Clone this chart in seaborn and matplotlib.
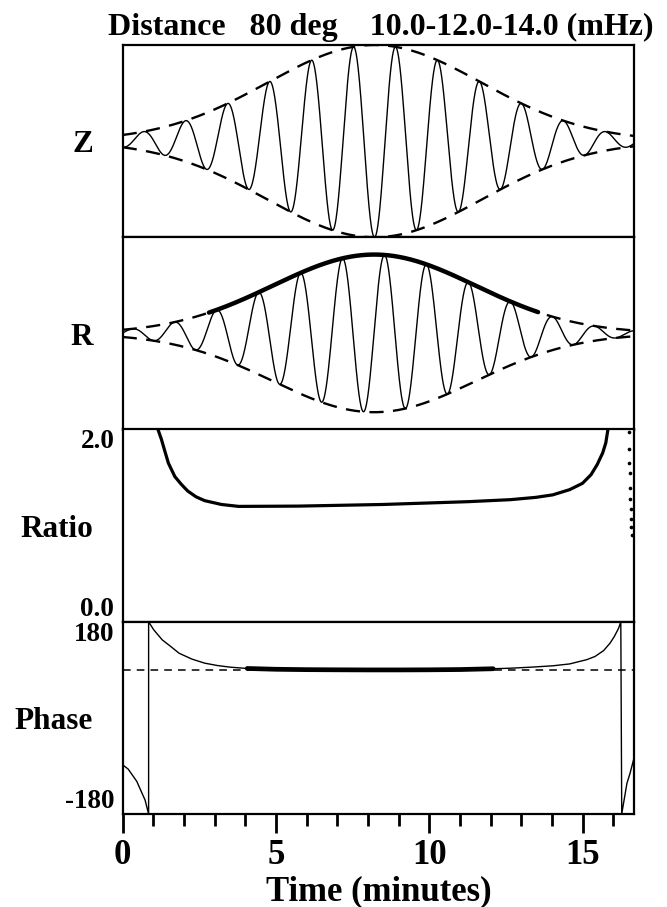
import numpy as np
import pandas as pd
import matplotlib
matplotlib.use("Agg")
import matplotlib.pyplot as plt
from matplotlib.ticker import MultipleLocator, NullLocator
import seaborn as sns

# ---------------------------------------------------------------- data
TITLE = "Distance   80 deg    10.0-12.0-14.0 (mHz)"
PANEL_NAMES = ["Z", "R", "Ratio", "Phase"]
X_LABEL = "Time (minutes)"
T_MAX = 16.68                      # minutes shown on the time axis

# narrow-band wave packets (12 mHz carrier): period in minutes,
# Gaussian envelope centre / width (minutes) and peak amplitude
CARRIER_PERIOD = 1.37
Z_CENTER, Z_WIDTH, Z_AMP, Z_TROUGH = 8.21, 3.5, 1.0, 8.21
R_CENTER, R_WIDTH, R_AMP, R_TROUGH = 8.20, 3.3, 0.82, 7.85
R_WINDOW = (2.81, 13.55)           # analysis window marked on the R envelope

# amplitude ratio R/Z
RATIO_T = [1.15, 1.26, 1.36, 1.49, 1.70, 1.91, 2.12, 2.39, 2.67, 3.22, 3.78,
           5.72, 8.48, 11.25, 12.64, 13.47, 14.02, 14.57, 14.99, 15.27,
           15.47, 15.65, 15.75, 15.82]
RATIO_V = [2.00, 1.90, 1.79, 1.65, 1.51, 1.43, 1.36, 1.30, 1.26, 1.22, 1.20,
           1.203, 1.22, 1.249, 1.27, 1.294, 1.32, 1.374, 1.44, 1.53,
           1.635, 1.757, 1.86, 2.00]
RATIO_EDGE_T = [16.50, 16.51, 16.52, 16.53, 16.54, 16.55, 16.56, 16.57,
                16.58, 16.59]
RATIO_EDGE_V = [1.972, 1.798, 1.652, 1.548, 1.391, 1.277, 1.172, 1.071,
                0.984, 0.904]
RATIO_TICKS = [0.0, 2.0]

# phase difference (degrees), wrapped to [-180, 180]
PHASE_T = [0.00, 0.18, 0.46, 0.73, 0.845, 0.845, 1.01, 1.29, 1.56, 1.84,
           2.26, 2.67, 3.09, 3.50, 4.06, 5.0, 6.0, 7.0, 8.0, 9.0, 10.0,
           11.0, 12.08, 12.64, 13.33, 14.02, 14.57, 15.13, 15.40, 15.68,
           15.89, 16.03, 16.17, 16.24, 16.27, 16.44, 16.54, 16.68]
PHASE_V = [-88, -96, -119, -154, -180, 180, 165, 146, 134, 121,
           110, 102.5, 98, 95, 92.5, 91, 90.3, 90, 89.8, 89.8, 90,
           90.5, 92, 93, 95, 97.5, 101, 109, 115, 126,
           140, 152.5, 168, 180, -180, -122.5, -104, -73]
PHASE_REF = 90
PHASE_WINDOW = (4.06, 12.08)
PHASE_TICKS = [-180, 180]

# ---------------------------------------------------------------- signals
t = np.linspace(0, T_MAX, 2000)


def envelope(center, width, amp):
    return amp * np.exp(-0.5 * ((t - center) / width) ** 2)


z_env = envelope(Z_CENTER, Z_WIDTH, Z_AMP)
r_env = envelope(R_CENTER, R_WIDTH, R_AMP)
z_sig = -z_env * np.cos(2 * np.pi * (t - Z_TROUGH) / CARRIER_PERIOD)
r_sig = -r_env * np.cos(2 * np.pi * (t - R_TROUGH) / CARRIER_PERIOD)

waves = pd.DataFrame({"t": t, "Z": z_sig, "R": r_sig,
                      "Zenv": z_env, "Renv": r_env})
ratio = pd.DataFrame({"t": RATIO_T, "v": RATIO_V})
ratio_edge = pd.DataFrame({"t": RATIO_EDGE_T, "v": RATIO_EDGE_V})
phase = pd.DataFrame({"t": PHASE_T, "v": PHASE_V})

# ---------------------------------------------------------------- style
sns.set_theme(style="white", rc={"axes.edgecolor": "black",
                                 "axes.linewidth": 1.6,
                                 "text.color": "black",
                                 "axes.labelcolor": "black",
                                 "xtick.color": "black",
                                 "ytick.color": "black"})
plt.rcParams["font.family"] = ["Liberation Serif", "DejaVu Serif"]
plt.rcParams["font.weight"] = "bold"

W, H = 667, 907
fig = plt.figure(figsize=(W / 100, H / 100), dpi=100)

left, right = 122.7 / W, 634.3 / W
top, bottom = 1 - 45 / H, 1 - 814 / H
ph = (top - bottom) / 4
axes = [fig.add_axes([left, top - (i + 1) * ph, right - left, ph])
        for i in range(4)]
ax_z, ax_r, ax_ratio, ax_phase = axes

env_dash = (0, (6, 4))


def line(ax, x, y, lw, **kw):
    sns.lineplot(x=x, y=y, ax=ax, color="black", linewidth=lw,
                 estimator=None, sort=False, **kw)


# Z component
line(ax_z, waves["t"], waves["Z"], 1.0)
line(ax_z, waves["t"], waves["Zenv"], 1.7, linestyle=env_dash)
line(ax_z, waves["t"], -waves["Zenv"], 1.7, linestyle=env_dash)
ax_z.set_ylim(-1.0, 1.0)

# R component with the windowed envelope
line(ax_r, waves["t"], waves["R"], 1.0)
line(ax_r, waves["t"], waves["Renv"], 1.7, linestyle=env_dash)
line(ax_r, waves["t"], -waves["Renv"], 1.7, linestyle=env_dash)
win = waves[(waves["t"] >= R_WINDOW[0]) & (waves["t"] <= R_WINDOW[1])]
line(ax_r, win["t"], win["Renv"], 3.2, solid_capstyle="round")
ax_r.set_ylim(-1.0, 1.0)

# amplitude ratio
line(ax_ratio, ratio["t"], ratio["v"], 2.3)
sns.scatterplot(data=ratio_edge, x="t", y="v", ax=ax_ratio, color="black",
                s=7, linewidth=0)
ax_ratio.set_ylim(0.0, 2.0)
ax_ratio.set_yticks(RATIO_TICKS)
ax_ratio.set_yticklabels([f"{v:.1f}" for v in RATIO_TICKS])

# phase difference
ax_phase.axhline(PHASE_REF, color="black", linewidth=1.1,
                 linestyle=(0, (5, 4)))
line(ax_phase, phase["t"], phase["v"], 1.0)
pw = phase[(phase["t"] >= PHASE_WINDOW[0]) & (phase["t"] <= PHASE_WINDOW[1])]
line(ax_phase, pw["t"], pw["v"], 3.4)
ax_phase.set_ylim(-180, 180)
ax_phase.set_yticks(PHASE_TICKS)
ax_phase.set_yticklabels([str(v) for v in PHASE_TICKS])

for ax, name in zip(axes, PANEL_NAMES):
    ax.set_xlim(0, T_MAX)
    ax.set_xlabel("")
    ax.set_ylabel("")
    for sp in ax.spines.values():
        sp.set_visible(True)
        sp.set_linewidth(1.6)
        sp.set_color("black")
    ax.tick_params(axis="y", length=0, pad=6, labelsize=19.5)
    if ax not in (ax_ratio, ax_phase):
        ax.yaxis.set_major_locator(NullLocator())
    if ax is not ax_phase:
        ax.xaxis.set_major_locator(NullLocator())
        ax.xaxis.set_minor_locator(NullLocator())
    ax.text(-0.058, 0.48, name, transform=ax.transAxes, ha="right",
            va="center", fontsize=22.5, fontweight="bold")

for ax in (ax_ratio, ax_phase):
    labels = ax.get_yticklabels()
    labels[0].set_va("bottom")
    labels[1].set_va("top")
    for lab in labels:
        lab.set_fontweight("bold")

ax_phase.xaxis.set_major_locator(MultipleLocator(5))
ax_phase.xaxis.set_minor_locator(MultipleLocator(1))
ax_phase.tick_params(axis="x", which="major", direction="out", length=13.7,
                     width=2.0, pad=4, labelsize=25, bottom=True)
ax_phase.tick_params(axis="x", which="minor", direction="out", length=8.6,
                     width=2.0, bottom=True)
for lab in ax_phase.get_xticklabels():
    lab.set_fontweight("bold")
ax_phase.set_xlabel(X_LABEL, fontsize=25, fontweight="bold", labelpad=3)

fig.text((left + right) / 2 + 2 / W, 1 - 35 / H, TITLE, ha="center",
         va="baseline", fontsize=23, fontweight="bold")

fig.savefig("out.png", dpi=100)
